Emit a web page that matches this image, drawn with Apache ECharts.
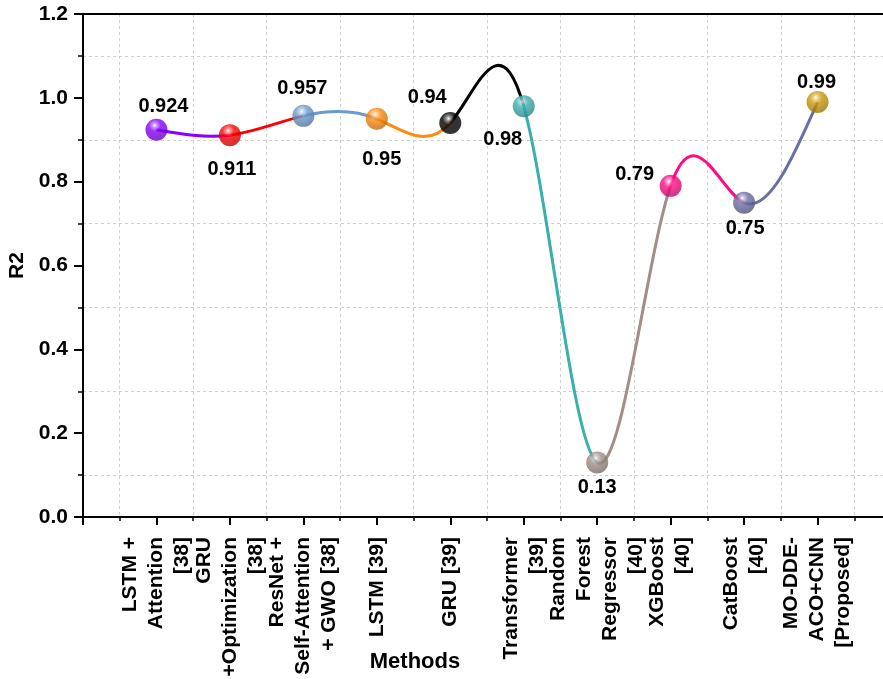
<!DOCTYPE html>
<html>
<head>
<meta charset="utf-8">
<script src="https://cdn.jsdelivr.net/npm/echarts/dist/echarts.min.js"></script>
<style>
html,body{margin:0;padding:0;background:#fff;}
#chart{width:883px;height:679px;}
</style>
</head>
<body>
<div id="chart"></div>
<script>
// ---- data ----
var categories = [
  "LSTM +\nAttention\n[38]",
  "GRU\n+Optimization\n[38]",
  "ResNet +\nSelf-Attention\n+ GWO [38]",
  "LSTM [39]",
  "GRU [39]",
  "Transformer\n[39]",
  "Random\nForest\nRegressor\n[40]",
  "XGBoost\n[40]",
  "CatBoost\n[40]",
  "MO-DDE-\nACO+CNN\n[Proposed]"
];
var positions = [1, 2, 3, 4, 5, 6, 7, 8, 9, 10];
var r2Values = [0.924, 0.911, 0.957, 0.95, 0.94, 0.98, 0.13, 0.79, 0.75, 0.99];
var yTicks = [0, 0.2, 0.4, 0.6, 0.8, 1.0, 1.2];

// ---- styles ----
var pointColors = ['#8a00ff', '#ff0000', '#6a9bd0', '#ff8a10', '#000000',
                   '#38b0ae', '#a08f88', '#ff0a84', '#6a6fa3', '#cc9a08'];
var labelOffsets = [[7,-23],[2,34],[-1,-27],[5,41],[-23,-25],[-21,33],[0,25],[-36,-11],[1,26],[-1,-20]];
var FONT = '"Liberation Sans", Arial, Helvetica, sans-serif';

// natural cubic spline (second derivatives) computed from the data
function splineM(x, y) {
  var n = x.length, M = new Array(n).fill(0);
  if (n < 3) return M;
  var a = [], b = [], c = [], d = [];
  for (var i = 1; i < n - 1; i++) {
    var h0 = x[i] - x[i-1], h1 = x[i+1] - x[i];
    a.push(h0); b.push(2 * (h0 + h1)); c.push(h1);
    d.push(6 * ((y[i+1] - y[i]) / h1 - (y[i] - y[i-1]) / h0));
  }
  var m = b.length;
  for (var k = 1; k < m; k++) {
    var w = a[k] / b[k-1];
    b[k] -= w * c[k-1];
    d[k] -= w * d[k-1];
  }
  var sol = new Array(m);
  sol[m-1] = d[m-1] / b[m-1];
  for (var k2 = m - 2; k2 >= 0; k2--) sol[k2] = (d[k2] - c[k2] * sol[k2+1]) / b[k2];
  for (var j = 0; j < m; j++) M[j+1] = sol[j];
  return M;
}
var M2 = splineM(positions, r2Values);

function shade(hex, f) {
  var r = parseInt(hex.substr(1,2),16), g = parseInt(hex.substr(3,2),16), b = parseInt(hex.substr(5,2),16);
  function t(v){ return f >= 0 ? Math.round(v + (255 - v) * f) : Math.round(v * (1 + f)); }
  return 'rgb(' + t(r) + ',' + t(g) + ',' + t(b) + ')';
}
function sphere(c) {
  return {
    type: 'radial', x: 0.42, y: 0.3, r: 0.7,
    colorStops: [
      {offset: 0, color: '#ffffff'},
      {offset: 0.12, color: shade(c, 0.55)},
      {offset: 0.38, color: c},
      {offset: 1, color: shade(c, -0.25)}
    ]
  };
}

var segData = [];
for (var s = 0; s < positions.length - 1; s++) segData.push([positions[s], r2Values[s]]);

var pointData = r2Values.map(function (v, i) {
  return {
    value: [positions[i], v],
    itemStyle: {color: sphere(pointColors[i])},
    label: {offset: labelOffsets[i]}
  };
});

var chart = echarts.init(document.getElementById('chart'));
chart.setOption({
  backgroundColor: '#ffffff',
  animation: false,
  grid: {left: 83, width: 808, top: 14, height: 503, containLabel: false, outerBoundsMode: 'none'},
  xAxis: [{
    type: 'value', min: 0, max: 11, interval: 1, position: 'bottom',
    axisLine: {show: true, onZero: false, lineStyle: {color: '#000', width: 2}},
    axisTick: {show: true, length: 8, lineStyle: {color: '#000', width: 2}},
    minorTick: {show: true, splitNumber: 2, length: 4, lineStyle: {color: '#000', width: 1.5}},
    splitLine: {show: false},
    minorSplitLine: {show: true, lineStyle: {color: '#cfcfcf', type: [3, 3], width: 1}},
    axisLabel: {
      rotate: 90, margin: 20, hideOverlap: false,
      fontSize: 21, fontWeight: 'bold', color: '#000', fontFamily: FONT, lineHeight: 26,
      showMinLabel: true, showMaxLabel: true,
      formatter: function (v) {
        var i = positions.indexOf(v);
        return i >= 0 ? categories[i] : '';
      }
    }
  }, {
    type: 'value', min: 0, max: 11, position: 'top',
    axisLine: {show: true, onZero: false, lineStyle: {color: '#000', width: 2}},
    axisTick: {show: false}, axisLabel: {show: false}, splitLine: {show: false}
  }],
  yAxis: {
    type: 'value', min: yTicks[0], max: yTicks[yTicks.length - 1], interval: 0.2,
    axisLine: {show: true, onZero: false, lineStyle: {color: '#000', width: 2}},
    axisTick: {show: true, length: 9, lineStyle: {color: '#000', width: 2}},
    minorTick: {show: true, splitNumber: 2, length: 5, lineStyle: {color: '#000', width: 1.5}},
    splitLine: {show: false},
    minorSplitLine: {show: true, lineStyle: {color: '#cfcfcf', type: [3, 3], width: 1}},
    axisLabel: {
      margin: 15, fontSize: 21, fontWeight: 'bold', color: '#000', fontFamily: FONT,
      formatter: function (v) { return v.toFixed(1); }
    },
    name: 'R2', nameLocation: 'middle', nameGap: 55,
    nameTextStyle: {fontSize: 21, fontWeight: 'bold', color: '#000', fontFamily: FONT}
  },
  graphic: [{
    type: 'text', x: 415, y: 662,
    style: {text: 'Methods', fill: '#000', font: 'bold 22px ' + FONT, textAlign: 'center', textVerticalAlign: 'middle'}
  }],
  series: [{
    type: 'custom',
    coordinateSystem: 'cartesian2d',
    data: segData,
    z: 3,
    clip: false,
    renderItem: function (params, api) {
      var i = params.dataIndex;
      var x0 = positions[i], x1 = positions[i+1], y0 = r2Values[i], y1 = r2Values[i+1];
      var h = x1 - x0;
      var d0 = (y1 - y0) / h - h * (2 * M2[i] + M2[i+1]) / 6;
      var d1 = (y1 - y0) / h + h * (M2[i] + 2 * M2[i+1]) / 6;
      var p0 = api.coord([x0, y0]);
      var c1 = api.coord([x0 + h / 3, y0 + d0 * h / 3]);
      var c2 = api.coord([x1 - h / 3, y1 - d1 * h / 3]);
      var p1 = api.coord([x1, y1]);
      return {
        type: 'bezierCurve',
        shape: {x1: p0[0], y1: p0[1], cpx1: c1[0], cpy1: c1[1], cpx2: c2[0], cpy2: c2[1], x2: p1[0], y2: p1[1]},
        style: {stroke: pointColors[i], lineWidth: 3, fill: 'none'}
      };
    }
  }, {
    type: 'scatter',
    data: pointData,
    symbol: 'circle',
    symbolSize: 22,
    z: 5,
    label: {
      show: true, position: 'inside', color: '#000',
      textBorderWidth: 0, textBorderColor: 'transparent', opacity: 1,
      fontSize: 20, fontWeight: 'bold', fontFamily: FONT,
      formatter: function (p) { return String(p.value[1]); }
    }
  }]
});
</script>
</body>
</html>
